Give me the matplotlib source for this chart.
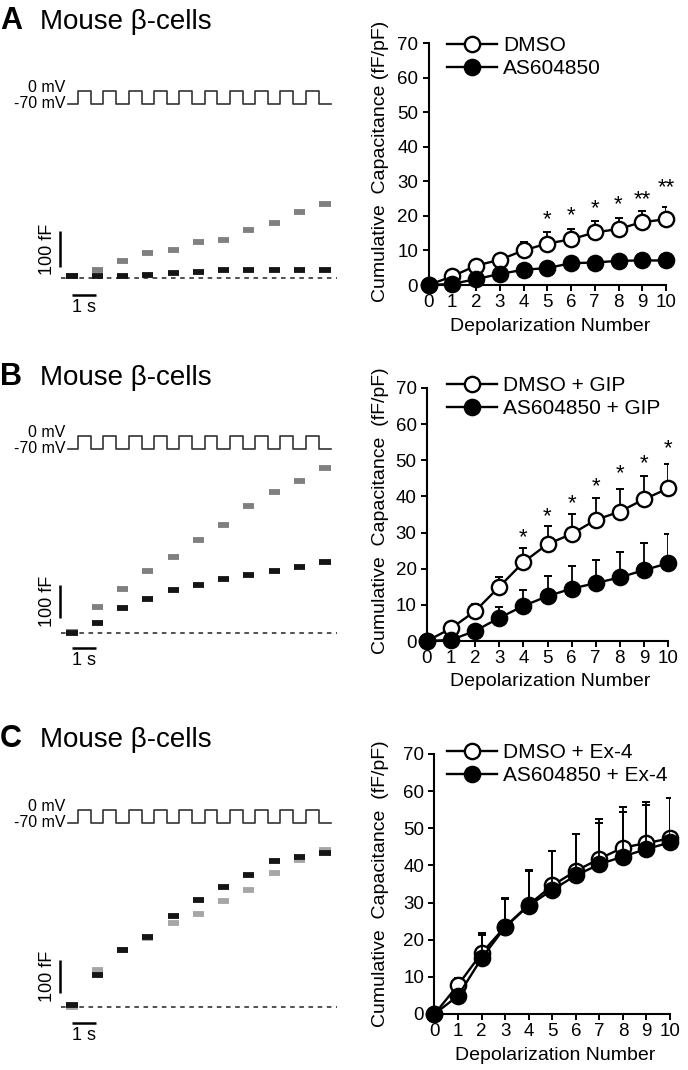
import numpy as np
import matplotlib
matplotlib.use("Agg")
import matplotlib.pyplot as plt

plt.rcParams['font.family'] = ['Liberation Sans', 'DejaVu Sans']

W, H = 688, 1070

# ---- summary data (cumulative capacitance, fF/pF), mean and upper SEM ----
depol = np.arange(11)

a_dmso = [0, 2.5, 5.6, 7.3, 10.0, 12.0, 13.2, 15.2, 16.2, 18.2, 19.0]
a_dmso_err = [0, 0.7, 0.8, 1.2, 2.5, 3.4, 3.1, 3.2, 3.1, 3.2, 3.6]
a_as = [0, 0.3, 1.7, 3.2, 4.4, 4.9, 6.3, 6.5, 7.0, 7.1, 7.1]
a_as_err = [0, 0.3, 0.5, 0.8, 1.0, 1.2, 1.5, 1.7, 1.8, 2.0, 2.0]
a_labels = ["DMSO", "AS604850"]
a_stars = {5: "*", 6: "*", 7: "*", 8: "*", 9: "**", 10: "**"}
a_star_y = {5: 21.0, 6: 22.0, 7: 24.0, 8: 25.3, 9: 26.7, 10: 30.1}

b_dmso = [0, 3.5, 8.3, 15.0, 21.8, 26.8, 29.6, 33.5, 35.8, 39.2, 42.2]
b_dmso_err = [0, 0.8, 2.0, 2.8, 3.9, 5.1, 5.5, 6.0, 6.3, 6.5, 6.9]
b_as = [0, 0.3, 2.8, 6.4, 9.7, 12.4, 14.5, 16.0, 17.6, 19.6, 21.5]
b_as_err = [0, 0.5, 1.0, 3.1, 4.4, 5.6, 6.2, 6.4, 7.0, 7.5, 8.0]
b_labels = ["DMSO + GIP", "AS604850 + GIP"]
b_stars = {4: "*", 5: "*", 6: "*", 7: "*", 8: "*", 9: "*", 10: "*"}
b_star_y = {4: 30.6, 5: 36.4, 6: 40.0, 7: 44.7, 8: 48.2, 9: 51.1, 10: 55.2}

c_dmso = [0, 7.8, 16.4, 23.5, 29.4, 34.6, 38.5, 41.8, 44.8, 46.0, 47.3]
c_dmso_err = [0, 1.8, 5.5, 7.7, 9.4, 9.4, 10.0, 10.7, 10.9, 11.0, 10.8]
c_as = [0, 4.9, 15.0, 23.4, 29.2, 33.4, 37.3, 40.3, 42.4, 44.4, 46.2]
c_as_err = [0, 1.2, 6.3, 7.6, 9.4, 10.4, 11.2, 11.1, 12.1, 11.9, 11.9]
c_labels = ["DMSO + Ex-4", "AS604850 + Ex-4"]

# ---- example traces: capacitance level (fF) between depolarizations ----
a_trace_ctrl = [6, 21, 46, 69, 79, 99, 106, 134, 153, 182, 206]
a_trace_as = [6, 6, 6, 9, 14, 16, 21, 21, 21, 21, 23]
b_trace_ctrl = [3, 77, 132, 185, 229, 279, 326, 384, 427, 460, 499]
b_trace_as = [0, 28, 74, 101, 129, 144, 161, 174, 187, 199, 215]
c_trace_ctrl = [0, 111, 172, 208, 254, 281, 319, 354, 406, 444, 475]
c_trace_as = [5, 96, 172, 210, 274, 322, 364, 400, 443, 453, 467]

# pulse protocol: 10 steps -70 -> 0 mV
n_pulses = 10
pulse_dur = 0.55
period = 1.077
v_hold, v_step = -70, 0

fig = plt.figure(figsize=(W / 100, H / 100), dpi=100)


def px_rect(left, top, right, bottom):
    return [left / W, 1 - bottom / H, (right - left) / W, (bottom - top) / H]


def fxy(x, y):
    return (x / W, 1 - y / H)


# trace x mapping: 23.5 px per second, first pulse at x=78 px
px_per_s = 23.5
t0_px = 78
t_left = (40 - t0_px) / px_per_s
t_right = (340 - t0_px) / px_per_s


def draw_traces(v_high_px, base_px, px_per_ff, ctrl, drug, ctrl_color, vbar_bottom, hbar_y):
    # voltage protocol
    mv_per_px = 70 / 13
    axv = fig.add_axes(px_rect(40, v_high_px - 10, 340, v_high_px + 23))
    starts = np.arange(n_pulses) * period
    tv = [-0.43]
    vv = [v_hold]
    for s in starts:
        tv += [s, s, s + pulse_dur, s + pulse_dur]
        vv += [v_hold, v_step, v_step, v_hold]
    t_end = starts[-1] + pulse_dur + 0.53
    tv.append(t_end)
    vv.append(v_hold)
    axv.plot(tv, vv, color="#333333", lw=1.2)
    axv.set_xlim(t_left, t_right)
    axv.set_ylim(v_hold - 10 * mv_per_px, v_step + 10 * mv_per_px)
    axv.axis("off")
    axv.text(-0.55, 17, "0 mV", ha="right", va="center", fontsize=11.5)
    axv.text(-0.55, -65, "-70 mV", ha="right", va="center", fontsize=11.5)

    # capacitance traces
    top = v_high_px + 25
    bottom = base_px + 45
    axc = fig.add_axes(px_rect(40, top, 340, bottom))
    axc.set_xlim(t_left, t_right)
    axc.set_ylim((base_px - bottom) / px_per_ff, (base_px - top) / px_per_ff)
    axc.axis("off")
    axc.plot([-0.72, 11.0], [0, 0], color="#222222", lw=1.1, dashes=(3, 3))
    windows = [(-0.5, -0.02)]
    for k in range(1, n_pulses + 1):
        t_a = starts[k - 1] + pulse_dur + 0.03
        t_b = starts[k] - 0.03 if k < n_pulses else t_end - 0.02
        windows.append((t_a, t_b))
    for (t_a, t_b), lev in zip(windows, ctrl):
        axc.plot([t_a, t_b], [lev, lev], color=ctrl_color, lw=4.2,
                 solid_capstyle="butt", clip_on=False)
    for (t_a, t_b), lev in zip(windows, drug):
        axc.plot([t_a, t_b], [lev, lev], color="#151515", lw=4.2,
                 solid_capstyle="butt", clip_on=False)
    # scale bars
    bx = -0.77
    axc.plot([bx, bx], [vbar_bottom, vbar_bottom + 100], color="black", lw=1.8,
             solid_capstyle="butt", clip_on=False)
    axc.text(bx - 0.15, vbar_bottom + 50, "100 fF", rotation=90, ha="right",
             va="center", fontsize=13)
    axc.plot([-0.25, 0.75], [hbar_y, hbar_y], color="black", lw=1.8,
             solid_capstyle="butt", clip_on=False)
    axc.text(0.25, hbar_y - 4 / px_per_ff, "1 s", ha="center", va="top", fontsize=13)


def draw_summary(box, ctrl, ctrl_err, drug, drug_err, labels, stars, star_y,
                 ylab, ylab_y, xlab_top, leg_top):
    ax = fig.add_axes(px_rect(*box))
    ax.errorbar(depol, ctrl, yerr=[np.zeros(11), ctrl_err], fmt="none",
                ecolor="black", elinewidth=1.3, capsize=3, capthick=1.4, zorder=2)
    ax.plot(depol, ctrl, "-o", color="black", mfc="white", mec="black", ms=11,
            mew=1.7, lw=1.7, label=labels[0], clip_on=False, zorder=3)
    ax.errorbar(depol, drug, yerr=[np.zeros(11), drug_err], fmt="none",
                ecolor="black", elinewidth=1.3, capsize=3, capthick=1.4, zorder=4)
    ax.plot(depol, drug, "-o", color="black", mfc="black", mec="black", ms=11,
            mew=1.7, lw=1.7, label=labels[1], clip_on=False, zorder=5)
    for k, s in stars.items():
        ax.annotate(s, (k, star_y[k]), xytext=(0, -5), textcoords="offset points",
                    ha="center", va="center", fontsize=16)

    ax.set_xlim(0, 10)
    ax.set_ylim(0, 70)
    ax.set_xticks(depol)
    ax.set_yticks(range(0, 71, 10))
    for side in ["top", "right"]:
        ax.spines[side].set_visible(False)
    for side in ["left", "bottom"]:
        ax.spines[side].set_linewidth(1.5)
    ax.tick_params(length=4, width=1.4, labelsize=13.5, pad=2.5)
    ax.tick_params(axis="y", pad=3.5)

    ax.set_ylabel(ylab, fontsize=14)
    ax.yaxis.set_label_coords(389 / W, 1 - ylab_y / H, transform=fig.transFigure)
    ax.set_xlabel("Depolarization Number", fontsize=14)
    ax.xaxis.set_label_coords((box[0] + box[2]) / 2 / W + 3 / W, 1 - xlab_top / H,
                              transform=fig.transFigure)
    ax.legend(loc="upper left", bbox_to_anchor=fxy(447, leg_top),
              bbox_transform=fig.transFigure, frameon=False, fontsize=15,
              handlelength=2.4, handletextpad=0.3, labelspacing=0.2,
              borderpad=0, borderaxespad=0, numpoints=1)
    return ax


# panel titles
for letter, y in [("A", 29), ("B", 385), ("C", 747)]:
    fig.text(0, 1 - y / H, letter, fontsize=22, fontweight="bold", va="baseline")
    fig.text(40 / W, 1 - y / H, "Mouse \u03b2-cells", fontsize=20, va="baseline")

# A
draw_traces(91, 278, 0.36, a_trace_ctrl, a_trace_as, "#808080", 30, -47)
draw_summary((428.5, 43, 666, 285), a_dmso, a_dmso_err, a_as, a_as_err, a_labels,
             a_stars, a_star_y, "Cumulative  Capacitance (fF/pF)", 161, 318, 36)

# B
draw_traces(436, 632.5, 0.33, b_trace_ctrl, b_trace_as, "#808080", 44, -47)
draw_summary((427, 388, 668, 641), b_dmso, b_dmso_err, b_as, b_as_err, b_labels,
             b_stars, b_star_y, "Cumulative  Capacitance  (fF/pF)", 511, 673, 376)

# C
draw_traces(810, 1006.7, 0.33, c_trace_ctrl, c_trace_as, "#a6a6a6", 41.5, -49)
draw_summary((434.5, 754, 670, 1014), c_dmso, c_dmso_err, c_as, c_as_err, c_labels,
             {}, {}, "Cumulative  Capacitance  (fF/pF)", 884, 1047, 743)

fig.savefig("out.png", dpi=100)
